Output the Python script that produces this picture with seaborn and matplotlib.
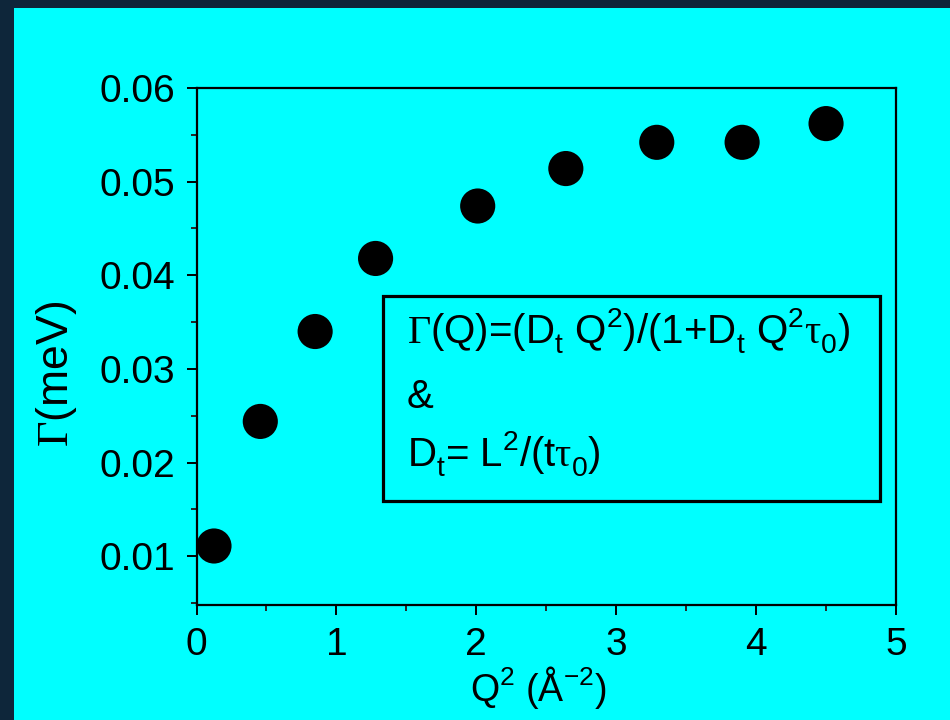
import matplotlib
matplotlib.use("Agg")
import matplotlib.pyplot as plt
import matplotlib._mathtext as mtext
from matplotlib.patches import Rectangle
from matplotlib.ticker import MultipleLocator
import seaborn as sns
import pandas as pd

# ---- data ----
q2 = [0.125, 0.456, 0.848, 1.28, 2.01, 2.64, 3.29, 3.90, 4.50]
gamma = [0.0111, 0.0244, 0.0340, 0.0418, 0.0474, 0.0514, 0.0542, 0.0542, 0.0562]
x_ticks = [0, 1, 2, 3, 4, 5]
y_ticks = [0.01, 0.02, 0.03, 0.04, 0.05, 0.06]
y_tick_labels = ["0.01", "0.02", "0.03", "0.04", "0.05", "0.06"]

df = pd.DataFrame({"q2": q2, "gamma": gamma})

sns.set_theme(style="ticks")
plt.rcParams["font.family"] = ["Liberation Sans", "DejaVu Sans"]
plt.rcParams["mathtext.fontset"] = "custom"
plt.rcParams["mathtext.rm"] = "Liberation Serif"
plt.rcParams["mathtext.it"] = "Liberation Serif"
plt.rcParams["mathtext.sf"] = "Liberation Sans"
plt.rcParams["text.color"] = "black"
plt.rcParams["axes.labelcolor"] = "black"
# push scripts further from the baseline, like the original
mtext.FontConstantsBase.sub1 = 0.5
mtext.FontConstantsBase.sub2 = 0.6
mtext.FontConstantsBase.sup1 = 0.85

CYAN = "#00FFFF"
fig = plt.figure(figsize=(9.5, 7.2), dpi=100, facecolor="#0e263a")
# cyan slide panel
fig.add_artist(Rectangle((14 / 950, 0), 1 - 14 / 950, 1 - 8 / 720,
                         transform=fig.transFigure, facecolor=CYAN,
                         edgecolor="none", zorder=-10))

ax = fig.add_axes([196.5 / 950, (720 - 605) / 720, 699.5 / 950, 517 / 720])
ax.set_zorder(5)
ax.set_facecolor(CYAN)

sns.scatterplot(data=df, x="q2", y="gamma", ax=ax, s=640, color="black",
                edgecolor="none", linewidth=0, legend=False, zorder=3)

ax.set_xlim(0, 5)
ax.set_ylim(0.0048, 0.06)
ax.set_xticks(x_ticks)
ax.set_xticklabels([str(t) for t in x_ticks])
ax.set_yticks(y_ticks)
ax.set_yticklabels(y_tick_labels)
ax.xaxis.set_minor_locator(MultipleLocator(0.5))
ax.yaxis.set_minor_locator(MultipleLocator(0.005))

for s in ax.spines.values():
    s.set_linewidth(1.6)
    s.set_color("black")

ax.tick_params(axis="both", which="major", direction="out", length=7.5,
               width=1.4, labelsize=28, pad=8, colors="black")
ax.tick_params(axis="both", which="minor", direction="out", length=4.5,
               width=1.4)

ax.set_xlabel(r"Q$^{\mathsf{2}}$ (Å$^{\mathsf{-2}}$)", fontsize=27, color="black")
ax.xaxis.set_label_coords(0.489, -0.115)
ax.set_ylabel(r"$\Gamma$(meV)", fontsize=32, color="black")
ax.yaxis.set_label_coords(-0.168, 0.446)

# formula box
ax.add_patch(Rectangle((0.2666, 0.201), 0.7104, 0.3967, transform=ax.transAxes,
                       fill=False, edgecolor="black", linewidth=2.3, zorder=4))
fs = 29
ax.text(0.3010, 0.503,
        r"$\Gamma$(Q)=(D$_{\mathsf{t}}$ Q$^{\mathsf{2}}$)/(1+D$_{\mathsf{t}}$ Q$^{\mathsf{2}}\tau_{\mathsf{0}}$)",
        transform=ax.transAxes, fontsize=fs, va="baseline", ha="left",
        color="black", zorder=5)
ax.text(0.3010, 0.381, "&", transform=ax.transAxes, fontsize=fs,
        va="baseline", ha="left", color="black", zorder=5)
ax.text(0.3010, 0.265,
        r"D$_{\mathsf{t}}$= L$^{\mathsf{2}}$/(t$\tau_{\mathsf{0}}$)",
        transform=ax.transAxes, fontsize=fs, va="baseline", ha="left",
        color="black", zorder=5)

fig.savefig("out.png", dpi=100, facecolor=fig.get_facecolor())
